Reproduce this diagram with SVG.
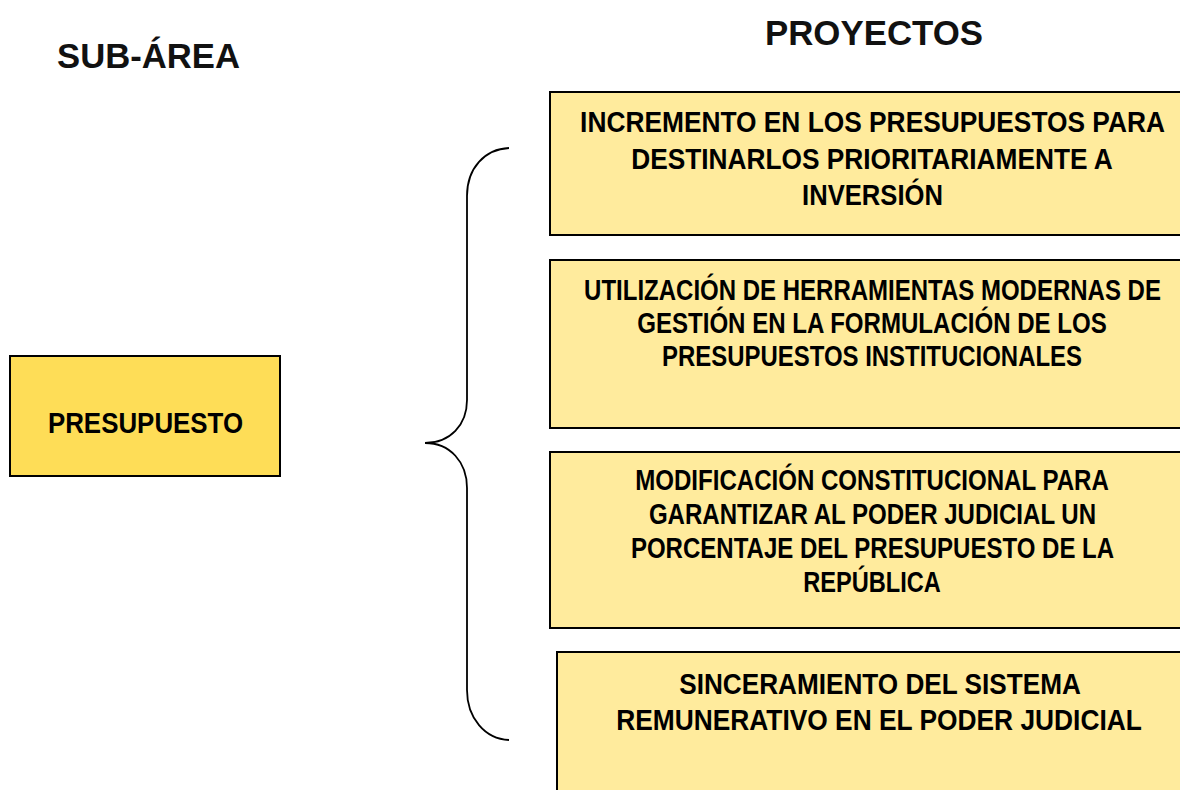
<svg xmlns="http://www.w3.org/2000/svg" width="1180" height="790" viewBox="0 0 1180 790">
<style>
.hdr{font-family:"Liberation Sans",Arial,sans-serif;font-weight:bold;font-size:35px;fill:#111;text-anchor:middle}
.t{font-family:"Liberation Sans Narrow","Arial Narrow","Liberation Sans",sans-serif;font-weight:bold;font-size:29px;fill:#000;text-anchor:middle}
.main{fill:#FEDD57;stroke:#000;stroke-width:2}
.proj{fill:#FFEB9D;stroke:#000;stroke-width:2}
.brace{fill:none;stroke:#000;stroke-width:1.8}
</style>
<rect width="1180" height="790" fill="#fff"/>
<text class="hdr" x="148.5" y="68" textLength="183" lengthAdjust="spacingAndGlyphs">SUB-ÁREA</text>
<text class="hdr" x="874" y="45" textLength="218" lengthAdjust="spacingAndGlyphs">PROYECTOS</text>
<g id="presupuesto">
<rect class="main" x="10" y="356" width="270" height="120"/>
<text class="t" style="font-size:30px" transform="matrix(0.8,0,0,1,145.5,433)" x="0" y="0" textLength="244" lengthAdjust="spacingAndGlyphs">PRESUPUESTO</text>
</g>
<g id="connectors">
<path class="brace" d="M509,148 C485,149 467,168 467,196 L467,400 C467,425 450,443 425,443 C450,443 467,462 467,488 L467,690 C467,718 485,739 509,740"/>
</g>
<g id="proyecto1">
<rect class="proj" x="550" y="92" width="640" height="143"/>
<text class="t" transform="matrix(0.8,0,0,1,872.5,132)" x="0" y="0" textLength="731" lengthAdjust="spacingAndGlyphs">INCREMENTO EN LOS PRESUPUESTOS PARA</text>
<text class="t" transform="matrix(0.8,0,0,1,872,169)" x="0" y="0" textLength="602" lengthAdjust="spacingAndGlyphs">DESTINARLOS PRIORITARIAMENTE A</text>
<text class="t" transform="matrix(0.8,0,0,1,872.5,205)" x="0" y="0" textLength="176" lengthAdjust="spacingAndGlyphs">INVERSIÓN</text>
</g>
<g id="proyecto2">
<rect class="proj" x="550" y="260" width="640" height="168"/>
<text class="t" transform="matrix(0.8,0,0,1,872.5,300)" x="0" y="0" textLength="721" lengthAdjust="spacingAndGlyphs">UTILIZACIÓN DE HERRAMIENTAS MODERNAS DE</text>
<text class="t" transform="matrix(0.8,0,0,1,872,333)" x="0" y="0" textLength="587" lengthAdjust="spacingAndGlyphs">GESTIÓN EN LA FORMULACIÓN DE LOS</text>
<text class="t" transform="matrix(0.8,0,0,1,872,366)" x="0" y="0" textLength="525" lengthAdjust="spacingAndGlyphs">PRESUPUESTOS INSTITUCIONALES</text>
</g>
<g id="proyecto3">
<rect class="proj" x="550" y="452" width="640" height="176"/>
<text class="t" transform="matrix(0.8,0,0,1,872,490)" x="0" y="0" textLength="592" lengthAdjust="spacingAndGlyphs">MODIFICACIÓN CONSTITUCIONAL PARA</text>
<text class="t" transform="matrix(0.8,0,0,1,872.5,524)" x="0" y="0" textLength="559" lengthAdjust="spacingAndGlyphs">GARANTIZAR AL PODER JUDICIAL UN</text>
<text class="t" transform="matrix(0.8,0,0,1,872.5,558)" x="0" y="0" textLength="604" lengthAdjust="spacingAndGlyphs">PORCENTAJE DEL PRESUPUESTO DE LA</text>
<text class="t" transform="matrix(0.8,0,0,1,872,592)" x="0" y="0" textLength="172" lengthAdjust="spacingAndGlyphs">REPÚBLICA</text>
</g>
<g id="proyecto4">
<rect class="proj" x="557" y="652" width="640" height="150"/>
<text class="t" transform="matrix(0.8,0,0,1,880,694)" x="0" y="0" textLength="502" lengthAdjust="spacingAndGlyphs">SINCERAMIENTO DEL SISTEMA</text>
<text class="t" transform="matrix(0.8,0,0,1,879,730)" x="0" y="0" textLength="657" lengthAdjust="spacingAndGlyphs">REMUNERATIVO EN EL PODER JUDICIAL</text>
</g>
</svg>
